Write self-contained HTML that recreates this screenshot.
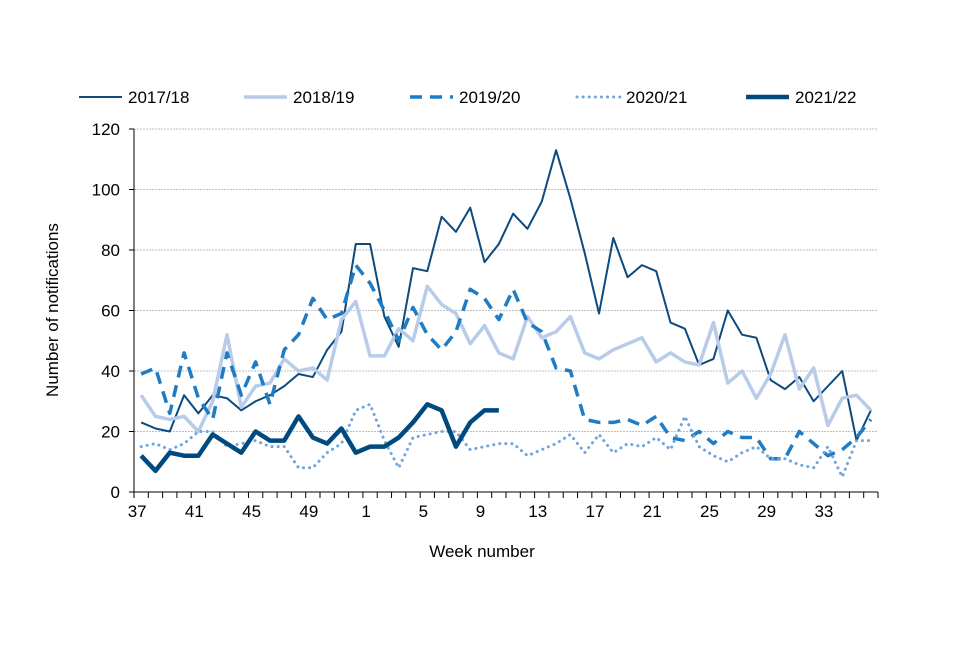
<!DOCTYPE html>
<html><head><meta charset="utf-8"><style>
body{margin:0;background:#fff;font-family:"Liberation Sans",Arial,sans-serif}
svg text{font-family:"Liberation Sans",Arial,sans-serif;fill:#000}
</style></head><body>
<svg id="c" width="960" height="640" xmlns="http://www.w3.org/2000/svg"></svg>
<script>
const weeks=[37,38,39,40,41,42,43,44,45,46,47,48,49,50,51,52,1,2,3,4,5,6,7,8,9,10,11,12,13,14,15,16,17,18,19,20,21,22,23,24,25,26,27,28,29,30,31,32,33,34,35,36];
const yTicks=[0,20,40,60,80,100,120];
const s2017=[23,21,20,32,26,32,31,27,30,32,35,39,38,47,53,82,82,58,48,74,73,91,86,94,76,82,92,87,96,113,97,79,59,84,71,75,73,56,54,42,44,60,52,51,37,34,38,30,35,40,17,27];
const s2018=[32,25,24,25,20,30,52,28,35,36,44,40,41,37,57,63,45,45,54,50,68,62,59,49,55,46,44,58,51,53,58,46,44,47,49,51,43,46,43,42,56,36,40,31,39,52,34,41,22,31,32,27];
const s2019=[39,41,26,46,31,24,46,32,43,29,47,52,64,57,59,75,69,60,50,61,52,47,53,67,64,57,67,56,53,41,40,24,23,23,24,22,25,18,17,20,16,20,18,18,11,11,20,16,12,14,18,24];
const s2020=[15,16,14,16,20,20,15,16,17,15,15,8,8,13,16,27,29,17,8,18,19,20,20,14,15,16,16,12,14,16,19,13,19,13,16,15,18,14,25,15,12,10,13,15,11,11,9,8,15,5,17,17];
const s2021=[12,7,13,12,12,19,16,13,20,17,17,25,18,16,21,13,15,15,18,23,29,27,15,23,27,27];
const series=[
 {name:'2017/18',data:s2017,color:'#0d4a7e',w:2,dash:'',cap:'butt'},
 {name:'2018/19',data:s2018,color:'#b8cbe9',w:3.5,dash:'',cap:'butt'},
 {name:'2019/20',data:s2019,color:'#1f7bc4',w:3.5,dash:'12,8',cap:'butt'},
 {name:'2020/21',data:s2020,color:'#6ea5dd',w:3,dash:'0.1,6',cap:'round'},
 {name:'2021/22',data:s2021,color:'#004a80',w:4.5,dash:'',cap:'butt'}
];
const NS='http://www.w3.org/2000/svg';
const svg=document.getElementById('c');
const X0=134,X1=878,Y0=492,Y1=129;
const step=(X1-X0)/weeks.length;
const x=i=>X0+(i+0.5)*step;
const y=v=>Y0-(v/120)*(Y0-Y1);
function mk(t,a,p){const e=document.createElementNS(NS,t);for(const k in a)e.setAttribute(k,a[k]);(p||svg).appendChild(e);return e;}
yTicks.forEach(v=>{
 if(v>0){const g=mk('line',{x1:X0,x2:X1,y1:y(v),y2:y(v),stroke:'#bfbfbf','stroke-dasharray':'2,1'});
 
 }
 const tk=mk('line',{x1:X0-5,x2:X0,y1:y(v),y2:y(v),stroke:'#000'});
 
 
 const t=mk('text',{x:X0-14,y:y(v)+6,'text-anchor':'end','font-size':'17'});t.textContent=v;
 
 
});
const ax=mk('line',{x1:X0,x2:X0,y1:Y1,y2:Y0,stroke:'#000'});


const xa=mk('line',{x1:X0,x2:X1,y1:Y0,y2:Y0,stroke:'#000'});


for(let i=0;i<=weeks.length;i++){const t=mk('line',{x1:X0+i*step,x2:X0+i*step,y1:Y0,y2:Y0+6,stroke:'#000'});
 
 }
weeks.forEach((w,i)=>{if(i%4===0){const t=mk('text',{x:x(i)-4,y:517,'text-anchor':'middle','font-size':'17'});t.textContent=w;
 
 }});
series.forEach(s=>{
 const p=mk('polyline',{points:s.data.map((v,i)=>x(i)+','+y(v)).join(' '),fill:'none',stroke:s.color,'stroke-width':s.w,'stroke-dasharray':s.dash,'stroke-linecap':s.cap,'stroke-linejoin':'round'});
 
 
});
const lx=[79,244,410,577,746];
series.forEach((s,k)=>{
 const g=mk('g',{});
 
 
 mk('line',{x1:lx[k],x2:lx[k]+43,y1:97,y2:97,stroke:s.color,'stroke-width':s.w,'stroke-dasharray':s.dash,'stroke-linecap':s.cap},g);
 const t=mk('text',{x:lx[k]+49,y:103,'font-size':'17'},g);t.textContent=s.name;
});
const yt=mk('text',{x:0,y:0,'font-size':'17','text-anchor':'middle',transform:'translate(58,310) rotate(-90)'});yt.textContent='Number of notifications';


const xt=mk('text',{x:482,y:557,'font-size':'17','text-anchor':'middle'});xt.textContent='Week number';


</script>
</body></html>
